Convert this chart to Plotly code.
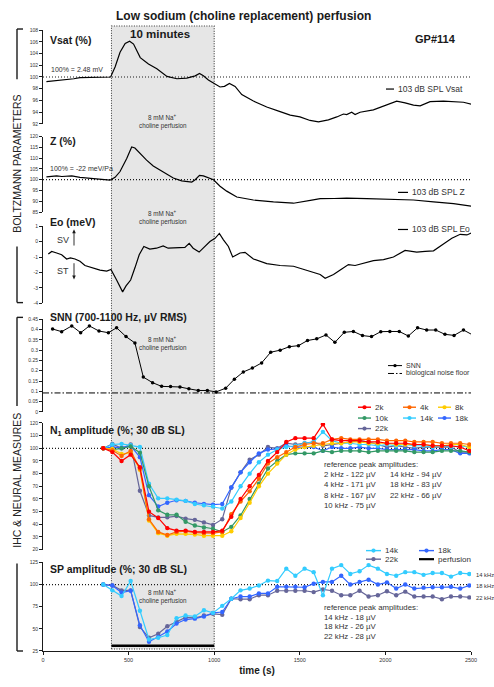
import plotly.graph_objects as go

# ---------------- data ----------------
VSAT_T = [20, 60, 100, 138, 180, 216, 250, 294, 333, 372, 395, 421, 450, 480, 506, 529, 568, 616, 665, 724,
          782, 840, 889, 914, 937, 966, 1005, 1034, 1060, 1089, 1122, 1161, 1229, 1307, 1385, 1444, 1501, 1560,
          1609, 1667, 1716, 1755, 1774, 1803, 1823, 1852, 1930, 2008, 2066, 2115, 2164, 2203, 2261, 2339, 2398,
          2456, 2510]
VSAT_V = [99.2, 99.3, 99.5, 99.55, 99.7, 99.9, 99.9, 100.0, 99.9, 100.0, 100.0, 101.7, 104.2, 105.7, 106.1,
          105.6, 103.3, 102.2, 101.4, 100.1, 99.7, 99.8, 100.2, 100.6, 100.2, 99.5, 98.8, 98.3, 98.4, 98.9,
          98.4, 97.0, 95.9, 94.9, 94.1, 93.5, 93.2, 92.6, 92.35, 92.7, 93.2, 93.7, 93.6, 94.0, 93.6, 94.0,
          94.4, 95.2, 95.9, 95.6, 95.2, 95.1, 95.8, 95.9, 95.8, 95.7, 95.3]

Z_T = [20, 50, 80, 110, 138, 168, 216, 294, 350, 391, 421, 450, 489, 518, 537, 566, 605, 644, 683, 722,
       761, 810, 869, 889, 914, 937, 966, 996, 1034, 1073, 1132, 1229, 1346, 1463, 1570, 1619, 1700, 1774,
       1891, 2000, 2164, 2281, 2398, 2510]
Z_V = [101.3, 101.7, 101.8, 101.5, 101.5, 101.8, 101.1, 100.5, 100.2, 99.8, 101.1, 103.8, 109.8, 115.2,
       114.7, 112.1, 109.1, 106.4, 104.5, 103.0, 100.8, 99.5, 98.9, 100.0, 102.0, 101.8, 100.8, 100.0, 97.0,
       94.7, 92.0, 90.6, 89.7, 89.1, 90.5, 91.2, 91.3, 91.5, 91.2, 91.0, 90.6, 89.7, 88.9, 87.6]

EO_T = [31, 51, 80, 109, 138, 160, 187, 216, 245, 284, 333, 372, 397, 430, 465, 485, 512, 537, 562, 589,
        624, 663, 702, 731, 780, 829, 854, 877, 912, 945, 975, 1005, 1030, 1054, 1083, 1108, 1151, 1180, 1229,
        1307, 1385, 1463, 1541, 1619, 1648, 1697, 1745, 1784, 1823, 1872, 1930, 1989, 2047, 2115, 2183, 2232,
        2281, 2339, 2388, 2437, 2476, 2510]
EO_V = [-0.81, -0.64, -0.74, -0.85, -1.13, -1.06, -1.13, -1.28, -1.55, -1.70, -1.85, -1.91, -1.81, -2.49,
        -3.26, -2.87, -2.49, -1.70, -0.85, -0.32, -0.49, -0.43, -0.28, -0.43, -0.40, -0.38, -0.11, -0.43,
        -0.68, -0.32, 0.0, 0.21, 0.53, 0.11, -0.32, -1.0, -0.74, -0.70, -1.13, -1.43, -1.55, -1.60, -1.85,
        -2.13, -2.38, -2.13, -1.77, -1.49, -1.55, -1.38, -1.23, -1.17, -1.0, -0.57, -0.68, -0.64, -0.60,
        -0.15, 0.21, 0.47, 0.43, 0.6]

SNN_T = [56, 109, 168, 220, 271, 327, 382, 430, 485, 537, 586, 640, 693, 745, 800, 852, 907, 960, 1011, 1067,
         1118, 1170, 1223, 1277, 1330, 1385, 1439, 1492, 1545, 1599, 1653, 1705, 1760, 1813, 1866, 1919, 1973,
         2026, 2081, 2134, 2188, 2241, 2294, 2348, 2401, 2456, 2510]
SNN_V = [0.403, 0.390, 0.418, 0.385, 0.418, 0.393, 0.385, 0.409, 0.366, 0.335, 0.169, 0.142, 0.124, 0.123,
         0.121, 0.112, 0.104, 0.104, 0.097, 0.115, 0.159, 0.194, 0.213, 0.238, 0.290, 0.300, 0.317, 0.322,
         0.347, 0.355, 0.374, 0.338, 0.387, 0.391, 0.371, 0.366, 0.390, 0.391, 0.391, 0.369, 0.409, 0.398,
         0.398, 0.377, 0.372, 0.398, 0.374]
NOISE_T = [0, 2500]
NOISE_V = [0.092, 0.092]

N1_T = [352, 405, 459, 512, 566, 619, 673, 726, 780, 833, 887, 940, 993, 1047, 1100, 1154, 1207, 1261, 1314,
        1368, 1421, 1474, 1528, 1581, 1635, 1688, 1742, 1795, 1849, 1902, 1956, 2009, 2063, 2116, 2169, 2223,
        2276, 2330, 2383, 2437, 2490]
N1_2K = [100, 97, 90, 95, 85, 50, 45, 37, 35, 35, 34, 34, 34, 35, 46, 60, 70, 79, 90, 97, 105, 108, 108, 108,
         119, 107, 106, 106, 106, 105, 105, 104, 104, 104, 103, 103, 102, 102, 102, 101, 98]
N1_4K = [100, 98.5, 94, 98, 84, 44, 34, 31.5, 34, 34.5, 33.5, 33, 33, 34, 48, 58, 66, 76, 88, 93, 97, 101, 103,
         104, 104, 107, 108, 107, 107, 107, 107, 106, 106, 106, 105, 105, 105, 104, 104, 104, 103]
N1_8K = [100, 99.5, 95.5, 96.5, 83, 43, 33, 31, 32.5, 32.5, 32, 31, 31, 31, 34.5, 45, 57, 70, 80, 88, 95, 99,
         101, 102, 103, 104, 104, 105, 105, 104, 104, 104, 103, 103, 103, 103, 102, 102, 103, 103, 101]
N1_10K = [100, 99, 100, 101.5, 96.5, 70, 51, 47.5, 47.5, 42, 39, 37.5, 36.5, 34, 38, 47, 60, 72, 84, 90, 95, 96,
          96, 96, 98, 97, 98, 98, 98, 97, 98, 98, 98, 98, 97, 97, 97, 98, 98, 98, 97]
N1_14K = [100, 103, 103.5, 102.5, 101, 72, 60.5, 60.5, 59.5, 58.5, 56, 55, 54, 52.5, 58, 70, 80, 89, 95, 99,
          101, 102, 104, 105, 113, 106, 104, 104, 103, 103, 102, 103, 102, 103, 102, 102, 101, 102, 101, 102, 101]
N1_18K = [100, 101, 100.5, 102, 93, 63, 54, 57, 59, 58.5, 57, 56, 55.5, 56, 69, 81, 89, 96, 99, 99.5, 102, 101,
          101, 101, 98, 101, 100, 100, 101, 100, 100, 99, 99, 99, 99, 98, 98, 99, 99, 96, 96]
N1_22K = [100, 103.5, 100, 103, 66.5, 47, 45.5, 45.5, 46.5, 44.5, 43.5, 41.5, 39.5, 44, 69, 81, 91, 95, 101, 100,
          104, 103, 104, 105, 102, 103, 104, 105, 106, 105, 103, 101, 102, 101, 100, 101, 101, 101, 101, 97, 97]

SP_T = N1_T
SP_14K = [100, 93.5, 87, 104, 70.5, 38, 40, 43, 62, 65, 64, 71, 68, 76, 84, 93.5, 95.5, 99, 104.5, 104, 118,
          110, 118, 114, 88, 118, 122, 112, 115, 122, 118, 112, 110, 114, 114, 111, 113, 113, 109, 113, 112]
SP_18K = [100, 99, 91, 93, 54, 35.5, 41, 47, 56, 60.5, 61.5, 64, 68, 69, 84, 86.5, 86.5, 90, 90, 97.5, 97.5,
          97.5, 97, 101, 103, 103, 110, 100, 103, 105.5, 100, 102.5, 95.5, 100, 95.5, 96.5, 97, 97, 97.5, 95.5, 99]
SP_22K = [100, 99, 93.5, 93.5, 52, 40, 44.5, 53, 58, 63, 62.5, 65, 67, 66, 84, 83.5, 83.5, 88, 88, 93, 93, 93,
          93, 91.5, 94.5, 93, 88, 88, 93, 86.5, 88, 92.5, 88, 92, 86.5, 86.5, 86.5, 83.5, 86.5, 86.5, 85.5]
PERF_T = [400, 1000]
PERF_V = [31, 31]

EO_TICKS = [-4, -3, -2, -1, 0, 1]
EO_LABELS = ["-4", "-3", "-2", "-1", "0", "1"]

# ---------------- layout helpers ----------------
W, H = 494, 687
ML, MR, MT, MB = 43, 23, 30, 26
PW, PH = W - ML - MR, H - MT - MB
FONT = "Liberation Sans, Arial, sans-serif"
INK = "#1a1a1a"
DOT = "1px,2px"

C2K, C4K, C8K = "#ff0000", "#ff6600", "#ffcc00"
C10K, C14K, C18K, C22K = "#339966", "#33ccff", "#3366ff", "#666699"


def px(x):
    return (x - ML) / PW


def py(y):
    return (H - MB - y) / PH


fig = go.Figure()


def series(x, y, ax, color, width=1.2, msize=0, dash=None):
    mode = "lines+markers" if msize else "lines"
    fig.add_trace(go.Scatter(
        x=x, y=y, xaxis="x", yaxis=ax, mode=mode,
        line=dict(color=color, width=width, dash=dash),
        marker=dict(size=msize, color=color, line=dict(width=0)),
        hoverinfo="skip", showlegend=False))


series(VSAT_T, VSAT_V, "y", "#000000", 1.2)
series(Z_T, Z_V, "y2", "#000000", 1.2)
series(EO_T, EO_V, "y3", "#000000", 1.2)
series(NOISE_T, NOISE_V, "y4", "#000000", 1.0, dash="6px,2px,1.5px,2px")
series(SNN_T, SNN_V, "y4", "#000000", 1.0, msize=3.5)
for arr, col in [(N1_22K, C22K), (N1_18K, C18K), (N1_14K, C14K), (N1_10K, C10K),
                 (N1_8K, C8K), (N1_4K, C4K), (N1_2K, C2K)]:
    series(N1_T, arr, "y5", col, 1.2, msize=4.4)
for arr, col in [(SP_22K, C22K), (SP_18K, C18K), (SP_14K, C14K)]:
    series(SP_T, arr, "y6", col, 1.2, msize=4.4)
series(PERF_T, PERF_V, "y6", "#000000", 2.4)


# ---------------- axes ----------------
def yax(lo_px, hi_px, rng, dtick, **kw):
    d = dict(anchor="x", domain=[py(lo_px), py(hi_px)], range=rng, dtick=dtick,
             showline=True, linecolor=INK, linewidth=1, ticks="outside", ticklen=3,
             tickwidth=0.8, tickcolor=INK, tickfont=dict(size=5, color="#333", family=FONT),
             showgrid=False, zeroline=False, fixedrange=True)
    d.update(kw)
    return d


layout_axes = dict(
    yaxis=yax(125.5, 30, [92, 108], 2),
    yaxis2=yax(215, 138.3, [85, 120], 5),
    yaxis3=yax(307.7, 229.3, [-4, 1], 1, tickmode="array", tickvals=EO_TICKS, ticktext=EO_LABELS),
    yaxis4=yax(418, 324, [0, 0.45], 0.05),
    yaxis5=yax(558, 429.3, [20, 120], 10),
    yaxis6=yax(661, 571, [25, 125], 25),
    xaxis=dict(domain=[0, 1], range=[0, 2500], anchor="y6", showline=True, linecolor=INK,
               linewidth=1, ticks="outside", ticklen=3, tickwidth=0.8, tickcolor=INK, dtick=500,
               tick0=0, tickfont=dict(size=5.5, color="#333", family=FONT), showgrid=False,
               zeroline=False, fixedrange=True,
               title=dict(text="<b>time (s)</b>", font=dict(size=10, color=INK, family=FONT), standoff=5)),
)

# ---------------- shapes ----------------
shapes = []
shapes.append(dict(type="rect", xref="x", yref="paper", x0=400, x1=1000, y0=py(659), y1=py(26),
                   fillcolor="#e6e6e6", line=dict(color="#333", width=1.1, dash="1px,1.5px"), layer="below"))
for ax in ["y", "y2", "y5", "y6"]:
    shapes.append(dict(type="line", xref="x", yref=ax, x0=0, x1=2500, y0=100, y1=100,
                       line=dict(color=INK, width=1.2, dash=DOT), layer="below"))


def pline(x0, y0, x1, y1, color=INK, width=1.4, dash=None):
    shapes.append(dict(type="line", xref="paper", yref="paper", x0=px(x0), y0=py(y0),
                       x1=px(x1), y1=py(y1), line=dict(color=color, width=width, dash=dash)))


def pdot(xc, yc, color, r=2.1):
    shapes.append(dict(type="circle", xref="paper", yref="paper", x0=px(xc - r), x1=px(xc + r),
                       y0=py(yc + r), y1=py(yc - r), fillcolor=color, line=dict(width=0)))


def ptri(xc, ytip, ybase, half=1.8, color=INK):
    path = (f"M {px(xc - half)} {py(ybase)} L {px(xc + half)} {py(ybase)} "
            f"L {px(xc)} {py(ytip)} Z")
    shapes.append(dict(type="path", xref="paper", yref="paper", path=path,
                       fillcolor=color, line=dict(width=0)))


# brackets
pline(23, 29, 17, 29); pline(17, 29, 17, 80)
pline(17, 250, 17, 307); pline(17, 307, 23, 307)
pline(23, 322, 17, 322); pline(17, 322, 17, 412)
pline(17, 572, 17, 661); pline(17, 661, 23, 661)

# SV / ST arrows
pline(74, 249, 74, 235, INK, 0.9); ptri(74, 232.5, 236.5)
pline(74, 267, 74, 281, INK, 0.9); ptri(74, 283.5, 279.5)

# ---------------- annotations ----------------
ann = []


def text(x, y, s, size=7, bold=False, anchor="left", color=INK, xref="paper", angle=0):
    ann.append(dict(x=px(x) if xref == "paper" else x, y=py(y), xref=xref, yref="paper",
                    text=f"<b>{s}</b>" if bold else s, showarrow=False, xanchor=anchor,
                    yanchor="middle", textangle=angle,
                    font=dict(size=size, color=color, family=FONT)))


text(243, 16, "Low sodium (choline replacement) perfusion", 12, True, "center")
text(160, 34, "10 minutes", 11.5, True, "center")
text(458, 39, "GP#114", 11, True, "right")
text(48, 40, "Vsat (%)", 10.5, True)
text(48, 143, "Z (%)", 10.5, True)
text(48, 225, "Eo (meV)", 10.5, True)
text(48, 322, "SNN (700-1100 Hz, µV RMS)", 10.5, True)
text(48, 437, "N<sub>1</sub> amplitude (%; 30 dB SL)", 10.5, True)
text(48, 578, "SP amplitude (%; 30 dB SL)", 10.5, True)
text(49, 70.5, "100% = 2.48 mV", 7, color="#333")
text(48, 171, "100% = -22 meV/Pa", 7, color="#333")

for ytop in [118.5, 216, 344.3, 601]:
    text(700, ytop, "8 mM Na<sup>+</sup>", 6.3, anchor="center", color="#333", xref="x")
    text(700, ytop + 9, "choline perfusion", 6.3, anchor="center", color="#333", xref="x")

text(55, 243, "SV", 9, color="#333")
text(55, 275, "ST", 9, color="#333")

# vertical group labels
text(17, 166, "BOLTZMANN PARAMETERS", 10.5, anchor="center", angle=-90, color="#222")
text(17, 488, "IHC &amp; NEURAL MEASURES", 10.5, anchor="center", angle=-90, color="#222")

# Boltzmann legends
pline(386, 90, 394, 90, "#000", 1.2); text(395.5, 90, "103 dB SPL Vsat", 8.5, color="#333")
pline(398, 195, 408, 195, "#000", 1.2); text(409.5, 195, "103 dB SPL Z", 8.5, color="#333")
pline(398, 232.7, 408, 232.7, "#000", 1.2); text(409.5, 232.7, "103 dB SPL Eo", 8.5, color="#333")

# SNN legend
pline(388, 371, 402, 371, "#000", 1.0); pdot(395, 371, "#000", 1.7)
text(403.5, 371, "SNN", 7, color="#333")
pline(388, 379, 402, 379, "#000", 1.0, "6px,2px,1.5px,2px")
text(403.5, 379, "biological noise floor", 7, color="#333")

# N1 legend
for (x0, y0, lab, col) in [(358, 413.3, "2k", C2K), (403, 413.3, "4k", C4K), (438, 413.3, "8k", C8K),
                           (358, 424.3, "10k", C10K), (403, 424.3, "14k", C14K), (438, 424.3, "18k", C18K),
                           (358, 435, "22k", C22K)]:
    pline(x0, y0, x0 + 13, y0, col, 1.4)
    pdot(x0 + 6.5, y0, col)
    text(x0 + 14.5, y0, lab, 8, color="#333")

ref1 = [(321.5, 471.7, "reference peak amplitudes:"),
        (321.5, 482, "2 kHz - 122 µV"), (321.5, 492.3, "4 kHz - 171 µV"),
        (321.5, 502.6, "8 kHz - 167 µV"), (321.5, 512.9, "10 kHz - 75 µV"),
        (388, 482, "14 kHz - 94 µV"), (388, 492.3, "18 kHz - 83 µV"), (388, 502.6, "22 kHz - 66 µV")]
for x0, y0, s in ref1:
    text(x0, y0, s, 7.8, color="#333")

# SP legend
for (x0, y0, lab, col) in [(366, 559, "14k", C14K), (419, 559, "18k", C18K), (366, 567.7, "22k", C22K)]:
    pline(x0, y0, x0 + 15, y0, col, 1.4)
    pdot(x0 + 7.5, y0, col)
    text(x0 + 16.5, y0, lab, 8, color="#333")
pline(419, 567.7, 434, 567.7, "#000", 2.2)
text(435.5, 567.7, "perfusion", 8, color="#333")

ref2 = [(322, 617, "reference peak amplitudes:"), (322, 626.5, "14 kHz - 18 µV"),
        (322, 636.3, "18 kHz - 26 µV"), (322, 646, "22 kHz - 28 µV")]
for x0, y0, s in ref2:
    text(x0, y0, s, 7.8, color="#333")

text(474, 584, "14 kHz", 5.8, color="#333")
text(474, 594.5, "18 kHz", 5.8, color="#333")
text(474, 607.5, "22 kHz", 5.8, color="#333")

fig.update_layout(
    width=W, height=H, autosize=False,
    margin=dict(l=ML, r=MR, t=MT, b=MB, pad=0),
    paper_bgcolor="white", plot_bgcolor="white",
    font=dict(family=FONT, color=INK),
    showlegend=False,
    shapes=shapes, annotations=ann,
    **layout_axes,
)

fig.write_html("out.html", config={"displayModeBar": False})
